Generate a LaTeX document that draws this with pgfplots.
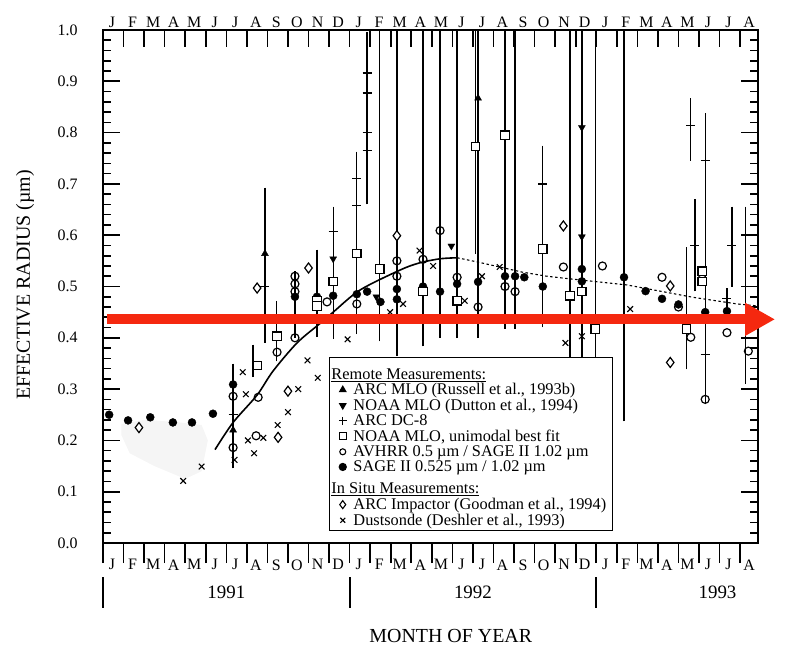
\documentclass[border=0pt]{standalone}
\usepackage{pgfplots}
\pgfplotsset{compat=1.18}
\usepackage{fontspec}
\setmainfont{Liberation Serif}
\usetikzlibrary{arrows.meta}
\definecolor{arrowred}{RGB}{245,40,15}
\begin{document}
\begin{tikzpicture}
\begin{axis}[name=main,
  width=655bp, height=513bp, scale only axis,
  xmin=0, xmax=31.87, ymin=0, ymax=1,
  axis line style={line width=1.8bp},
  tick style={line width=1.6bp, black},
  tick align=inside, major tick length=17bp, minor tick length=8bp,
  xtick={0,...,31},
  xticklabels={J,F,M,A,M,J,J,A,S,O,N,D,J,F,M,A,M,J,J,A,S,O,N,D,J,F,M,A,M,J,J,A},
  xtick pos=right, xticklabel pos=right,
  xticklabel style={xshift=9bp, yshift=-1bp, font=\fontsize{16}{16}\selectfont},
  ytick={0,0.1,0.2,0.3,0.4,0.5,0.6,0.7,0.8,0.9,1.0},
  yticklabels={0.0,0.1,0.2,0.3,0.4,0.5,0.6,0.7,0.8,0.9,1.0},
  minor y tick num=4,
  yticklabel style={xshift=-22bp, font=\fontsize{16}{16}\selectfont},
  ylabel={EFFECTIVE RADIUS (µm)},
  ylabel style={at={(axis description cs:-0.119,0.503)}, anchor=center, font=\fontsize{20}{20}\selectfont},
  legend style={at={(axis cs:10.98,0.362)}, anchor=north west, draw=black, line width=1.2bp, fill=white,
    font=\fontsize{16.4}{15}\selectfont, inner xsep=5bp, inner ysep=3bp, row sep=0.4bp,
    nodes={inner sep=1.2bp},
    /tikz/every odd column/.append style={column sep=5.5bp}},
  legend cell align=left,
]
% faint stippled region
\addplot[forget plot, fill=black!4, draw=none] coordinates {(0.9,0.232)(2,0.24)(3.5,0.236)(4.8,0.23)(5.1,0.2)(4.8,0.14)(4,0.125)(2.5,0.15)(1.3,0.175)(0.9,0.21)} -- cycle;

% error bars
\addplot[forget plot, draw=none, mark=none,
  error bars/.cd, y dir=both, y explicit, error mark=-,
  error mark options={draw=black, line width=1.3bp, mark size=5bp},
  error bar style={draw=black, line width=1.3bp}] coordinates {
(6.33,0.2475) +- (0,0.0925)
(7.3,0.355) +- (0,0.022)
(7.88,0.5415) +- (0,0.1415)
(8.45,0.413) +- (0,0.049)
(9.34,0.465) +- (0,0.055)
(10.41,0.4865) +- (0,0.0755)
(11.2,0.5265) +- (0,0.1195)
(12.35,0.585) +- (0,0.168)
(12.85,0.828) +- (0,0.158)
(13.47,0.7515) +- (0,0.3485)
(14.3,0.737) +- (0,0.363)
(15.57,0.7465) +- (0,0.3535)
(16.4,0.755) +- (0,0.345)
(17.23,0.7545) +- (0,0.3455)
(18.25,0.7545) +- (0,0.3455)
(18.12,0.8365) +- (0,0.2635)
(19.56,0.7635) +- (0,0.3365)
(20.05,0.7635) +- (0,0.3365)
(21.4,0.5975) +- (0,0.1675)
(22.72,0.73) +- (0,0.37)
(23.3,0.73) +- (0,0.37)
(23.95,0.73) +- (0,0.37)
(25.35,0.6735) +- (0,0.4265)
(28.4,0.4575) +- (0,0.1095)
(28.6,0.806) +- (0,0.051)
(28.8,0.58) +- (0,0.08)
(29.3,0.554) +- (0,0.274)
(30.36,0.476) +- (0,0.011)
(30.6,0.5775) +- (0,0.0685)
(31.25,0.483) +- (0,0.163)
};

% fitted curve
\addplot[forget plot, black, line width=1.6bp, smooth, tension=0.5] coordinates {
(5.45,0.182)(6.33,0.235)(7.49,0.288)(8.27,0.335)(9.44,0.39)(10.56,0.428)(11.2,0.45)(12.5,0.493)(14.45,0.532)(15.4,0.546)(16.4,0.554)(17.23,0.556)};
\addplot[forget plot, black, line width=1.1bp, dash pattern=on 2.5bp off 2.5bp] coordinates {
(17.23,0.556)(18.2,0.548)(19.3,0.538)(20.4,0.528)(21.6,0.52)(22.7,0.515)(25.5,0.503)(27.1,0.491)(28.7,0.479)(30.85,0.466)(31.87,0.462)};

% SAGE II filled circles
\addplot[forget plot, only marks, mark=*, mark size=4bp, black] coordinates {
(0.3,0.25)(1.22,0.239)(2.3,0.245)(3.4,0.235)(4.33,0.235)(5.35,0.252)(6.33,0.309)(9.34,0.48)(10.41,0.48)(11.2,0.482)(12.35,0.485)(12.85,0.49)(13.5,0.47)(14.3,0.495)(14.3,0.475)(15.57,0.5)(16.4,0.49)(17.23,0.505)(18.25,0.509)(19.56,0.52)(20.05,0.52)(20.5,0.518)(21.4,0.5)(23.3,0.534)(23.3,0.51)(25.35,0.518)(26.4,0.491)(27.2,0.476)(28.0,0.465)(29.3,0.45)(30.36,0.452)};
% AVHRR open circles
\addplot[forget plot, only marks, mark=o, mark size=4bp, black, mark options={line width=1.2bp, fill=white}] coordinates {
(6.33,0.186)(6.33,0.286)(7.45,0.209)(7.55,0.284)(8.47,0.372)(9.34,0.52)(9.34,0.505)(9.34,0.49)(9.34,0.4)(10.9,0.47)(12.35,0.466)(14.3,0.55)(14.3,0.52)(15.57,0.553)(16.4,0.609)(17.23,0.518)(18.25,0.46)(19.56,0.5)(20.05,0.49)(22.4,0.538)(24.3,0.54)(27.2,0.518)(28.0,0.46)(28.6,0.401)(29.3,0.28)(29.15,0.515)(30.36,0.41)(31.4,0.374)};
% NOAA MLO unimodal squares
\addplot[forget plot, only marks, mark=square*, mark size=4.2bp, black, mark options={line width=1.2bp, fill=white}] coordinates {
(7.5,0.346)(8.47,0.403)(10.41,0.472)(10.41,0.462)(11.2,0.51)(12.35,0.564)(13.47,0.534)(15.57,0.49)(17.23,0.472)(18.12,0.773)(19.56,0.795)(21.4,0.573)(22.72,0.482)(23.3,0.49)(23.95,0.417)(28.4,0.417)(29.15,0.53)(29.15,0.51)};
% ARC Impactor diamonds
\addplot[forget plot, only marks, mark=diamond*, mark size=5bp, black, mark options={line width=1.2bp, fill=white}] coordinates {
(1.75,0.225)(7.5,0.497)(8.52,0.206)(9.0,0.296)(10.0,0.536)(14.3,0.599)(22.4,0.618)(27.6,0.501)(27.6,0.352)};
% Dustsonde crosses
\addplot[forget plot, only marks, mark=x, mark size=4bp, black, mark options={line width=1.1bp}] coordinates {
(3.9,0.121)(4.8,0.149)(6.4,0.162)(6.8,0.333)(6.95,0.29)(7.05,0.2)(7.35,0.175)(7.8,0.205)(8.5,0.23)(9.0,0.255)(9.5,0.3)(9.95,0.356)(10.45,0.322)(11.9,0.397)(13.97,0.45)(14.6,0.466)(15.4,0.57)(16.06,0.54)(17.6,0.472)(18.44,0.52)(19.3,0.538)(22.5,0.39)(23.3,0.403)(25.65,0.456)};
% ARC MLO triangles
\addplot[forget plot, only marks, mark=triangle*, mark size=4bp, black] coordinates {
(6.33,0.22)(7.88,0.564)(18.25,0.867)};
% NOAA MLO (Dutton) inverted triangles
\addplot[forget plot, only marks, mark=triangle*, mark size=4bp, black, mark options={rotate=180}] coordinates {
(11.2,0.554)(13.3,0.48)(16.95,0.579)(23.3,0.81)(23.3,0.597)};
% ARC DC-8
\addplot[forget plot, only marks, mark=+, mark size=4.5bp, black, mark options={line width=1.3bp}] coordinates {
(12.85,0.916)(12.85,0.877)(12.85,0.8)(12.85,0.765)(12.35,0.71)(12.35,0.658)(11.2,0.607)(7.88,0.5)(21.4,0.70)(28.6,0.814)(28.8,0.58)(29.3,0.746)(29.3,0.368)(30.36,0.476)(30.6,0.58)(6.33,0.25)};

% legend
\addlegendimage{empty legend}
\addlegendentry{\hspace*{-22bp}\rule{0pt}{17bp}\underline{Remote Measurements:}}
\addlegendimage{only marks, mark=triangle*, mark size=3.5bp, black}
\addlegendentry{ARC MLO (Russell et al., 1993b)}
\addlegendimage{only marks, mark=triangle*, mark size=3.5bp, black, mark options={rotate=180}}
\addlegendentry{NOAA MLO (Dutton et al., 1994)}
\addlegendimage{only marks, mark=+, mark size=4bp, black, mark options={line width=1.2bp}}
\addlegendentry{ARC DC-8}
\addlegendimage{only marks, mark=square, mark size=3.5bp, black, mark options={line width=1.1bp}}
\addlegendentry{NOAA MLO, unimodal best fit}
\addlegendimage{only marks, mark=o, mark size=3bp, black, mark options={line width=1.1bp}}
\addlegendentry{AVHRR 0.5 µm / SAGE II 1.02 µm}
\addlegendimage{only marks, mark=*, mark size=3.5bp, black}
\addlegendentry{SAGE II 0.525 µm / 1.02 µm}
\addlegendimage{empty legend}
\addlegendentry{\hspace*{-22bp}\rule{0pt}{18bp}\underline{In Situ Measurements:}}
\addlegendimage{only marks, mark=diamond, mark size=4bp, black, mark options={line width=1.1bp}}
\addlegendentry{ARC Impactor (Goodman et al., 1994)}
\addlegendimage{only marks, mark=x, mark size=3.5bp, black, mark options={line width=1.1bp}}
\addlegendentry{Dustsonde (Deshler et al., 1993)}
\end{axis}

\begin{axis}[
  width=655bp, height=513bp, scale only axis,
  xmin=0, xmax=31.87, ymin=0, ymax=1,
  axis x line*=bottom, hide y axis,
  axis line style={line width=1.8bp},
  tick style={line width=1.6bp, black},
  tick align=outside, major tick length=20bp,
  xtick={0,...,31},
  xticklabels={J,F,M,A,M,J,J,A,S,O,N,D,J,F,M,A,M,J,J,A,S,O,N,D,J,F,M,A,M,J,J,A},
  xticklabel style={xshift=9bp, yshift=7bp, font=\fontsize{16}{16}\selectfont},
  xlabel={MONTH OF YEAR},
  xlabel style={at={(axis description cs:0.531,-0.181)}, anchor=center, font=\fontsize{20}{20}\selectfont},
  clip=false,
]
\addplot[arrowred, line width=10bp, -{Triangle[length=30bp, width=31bp]}] coordinates {(0.2,0.436) (32.7,0.436)};
\draw[line width=1.8bp] (axis cs:0,-0.0665) -- (axis cs:0,-0.127);
\draw[line width=1.8bp] (axis cs:12,-0.0665) -- (axis cs:12,-0.127);
\draw[line width=1.8bp] (axis cs:24,-0.0665) -- (axis cs:24,-0.127);
\node[font=\fontsize{19}{19}\selectfont] at (axis cs:6,-0.096) {1991};
\node[font=\fontsize{19}{19}\selectfont] at (axis cs:18,-0.096) {1992};
\node[font=\fontsize{19}{19}\selectfont] at (axis cs:29.9,-0.096) {1993};
\end{axis}
\pgfresetboundingbox
\path[use as bounding box] ([xshift=-103bp,yshift=-107bp]main.south west) rectangle ([xshift=43bp,yshift=30bp]main.north east);
\end{tikzpicture}
\end{document}
